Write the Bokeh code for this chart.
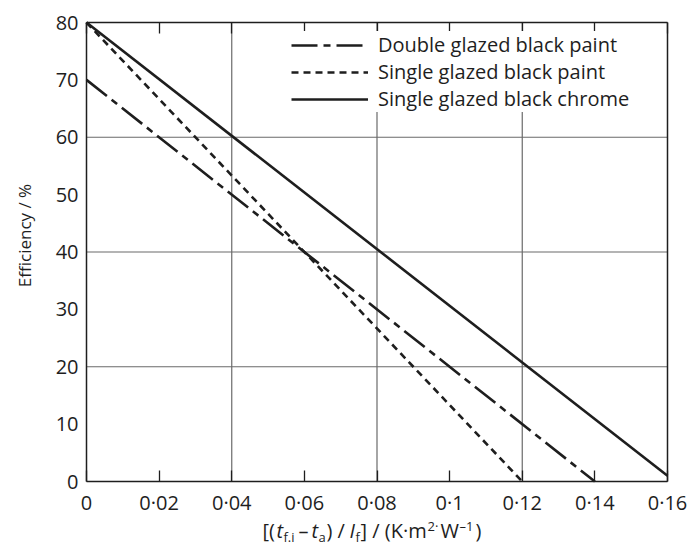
import math
from bokeh.plotting import figure
from bokeh.models import (FixedTicker, LinearAxis, Legend, LegendItem, Label,
                          Range1d)
from bokeh.embed import file_html
from bokeh.resources import INLINE

# ---------------- data ----------------
x_ticks = [0, 0.02, 0.04, 0.06, 0.08, 0.1, 0.12, 0.14, 0.16]
x_tick_labels = ["0", "0·02", "0·04", "0·06", "0·08", "0·1", "0·12", "0·14", "0·16"]
y_ticks = [0, 10, 20, 30, 40, 50, 60, 70, 80]
y_tick_labels = ["0", "10", "20", "30", "40", "50", "60", "70", "80"]
x_grid = [0.04, 0.08, 0.12]
y_grid = [20, 40, 60]
x_min, x_max = 0.0, 0.16
y_min, y_max = 0, 80

series_names = ["Double glazed black paint", "Single glazed black paint",
                "Single glazed black chrome"]
double_x = [0.0, 0.14]
double_y = [70, 0]
paint_x = [0.0, 0.12]
paint_y = [80, 0]
chrome_x = [0.0, 0.16]
chrome_y = [80, 1]

y_label = "Efficiency / %"
# x-axis title pieces: (text, style, kind)
x_title_pieces = [
    ("[(", "normal", "main"),
    ("t", "italic", "main"),
    ("f.i", "normal", "sub"),
    ("–", "normal", "main"),
    ("t", "italic", "main"),
    ("a", "normal", "sub"),
    (") /", "normal", "main"),
    ("I", "italic", "main"),
    ("f", "normal", "sub"),
    ("] / (K·m", "normal", "main"),
    ("2·", "normal", "sup"),
    ("W", "normal", "main"),
    ("–1", "normal", "sup"),
    (")", "normal", "main"),
]
# left edges (px from the left of the picture) of the title pieces
x_title_left = [262, 276, 283, 298, 311, 318, 326, 349, 355, 360, 427, 440, 459, 475]

FONT = "Open Sans"
INK = "#1e1e1e"

# ---------------- layout geometry (pixels) ----------------
W, H = 695, 545
FL, FR, FT, FB = 86, 667, 22, 481          # plot box edges in the picture
px_x = (FR - FL) / (x_max - x_min)
px_y = (FB - FT) / (y_max - y_min)
xr = Range1d(x_min - FL / px_x, x_max + (W - FR) / px_x)
yr = Range1d(y_min - (H - FB) / px_y, y_max + FT / px_y)

p = figure(width=W, height=H, output_backend="svg", toolbar_location=None,
           x_range=xr, y_range=yr, min_border=0,
           x_axis_type=None, y_axis_type=None)
p.background_fill_color = "white"
p.border_fill_color = "white"
p.outline_line_color = None
p.grid.visible = False

# grid lines (only inside the plot box)
p.segment(x0=x_grid, y0=[y_min] * len(x_grid), x1=x_grid, y1=[y_max] * len(x_grid),
          line_color="#6a6a6a", line_width=1.2)
p.segment(x0=[x_min] * len(y_grid), y0=y_grid, x1=[x_max] * len(y_grid), y1=y_grid,
          line_color="#6a6a6a", line_width=1.2)

def style_axis(ax):
    ax.axis_line_color = INK
    ax.axis_line_width = 1.5
    ax.minor_tick_line_color = None
    ax.major_tick_line_color = INK
    ax.major_tick_line_width = 1.3
    ax.major_tick_out = 0
    ax.major_label_text_font = FONT
    ax.major_label_text_font_size = "20px"
    ax.major_label_text_color = INK

# bottom axis at y = 0
xa = LinearAxis(ticker=FixedTicker(ticks=x_ticks), fixed_location=y_min,
                bounds=(x_min, x_max))
style_axis(xa)
xa.major_label_overrides = {t: l for t, l in zip(x_ticks, x_tick_labels)}
xa.major_tick_in = 11
xa.major_label_standoff = 7
p.add_layout(xa, "below")

# top axis at y = 80 (ticks only)
ta = LinearAxis(ticker=FixedTicker(ticks=x_ticks), fixed_location=y_max,
                bounds=(x_min, x_max))
style_axis(ta)
ta.major_tick_in = 11
ta.major_label_text_color = None
ta.level = "overlay"
p.add_layout(ta, "above")

# left axis at x = 0
ya = LinearAxis(ticker=FixedTicker(ticks=y_ticks), fixed_location=x_min,
                bounds=(y_min, y_max))
style_axis(ya)
ya.major_label_overrides = {t: l for t, l in zip(y_ticks, y_tick_labels)}
ya.major_tick_in = 0
ya.major_tick_line_color = None
ya.major_label_standoff = 8
p.add_layout(ya, "left")

# right axis at x = 0.16 (line only)
ra = LinearAxis(ticker=FixedTicker(ticks=y_ticks), fixed_location=x_max,
                bounds=(y_min, y_max))
style_axis(ra)
ra.major_tick_in = 0
ra.major_tick_line_color = None
ra.major_label_text_color = None
p.add_layout(ra, "right")

# lines
r1 = p.line(double_x, double_y, line_color=INK, line_width=2.6, line_dash="26 6 7 6")
r2 = p.line(paint_x, paint_y, line_color=INK, line_width=2.6, line_dash="7 5")
r3 = p.line(chrome_x, chrome_y, line_color=INK, line_width=2.6)

legend = Legend(items=[LegendItem(label=series_names[0], renderers=[r1]),
                       LegendItem(label=series_names[1], renderers=[r2]),
                       LegendItem(label=series_names[2], renderers=[r3])],
                location=(291, 433))
legend.border_line_color = None
legend.background_fill_color = "white"
legend.background_fill_alpha = 1.0
legend.label_text_font = FONT
legend.label_text_font_size = "20px"
legend.label_text_color = INK
legend.glyph_width = 77
legend.glyph_height = 20
legend.label_height = 20
legend.spacing = 0
legend.padding = 2
legend.margin = 0
legend.label_standoff = 10
p.add_layout(legend, "center")

# y-axis title
p.add_layout(Label(x=24, y=H - 235, x_units="screen", y_units="screen",
                   text=y_label, angle=math.pi / 2, text_font=FONT,
                   text_font_size="17px", text_color=INK,
                   text_align="center", text_baseline="middle"))

# x-axis title, built from pieces (italic symbols, sub/superscripts)
MID = 530
for (txt, style, kind), ax in zip(x_title_pieces, x_title_left):
    if kind == "main":
        my, fs = MID, "20px"
    elif kind == "sub":
        my, fs = MID + 6, "13px"
    else:
        my, fs = MID - 5, "13px"
    p.add_layout(Label(x=ax, y=H - my, x_units="screen", y_units="screen",
                       text=txt, text_font=FONT, text_font_size=fs,
                       text_font_style=style, text_color=INK,
                       text_align="left", text_baseline="middle"))

open("out.html", "w").write(file_html(p, INLINE))
